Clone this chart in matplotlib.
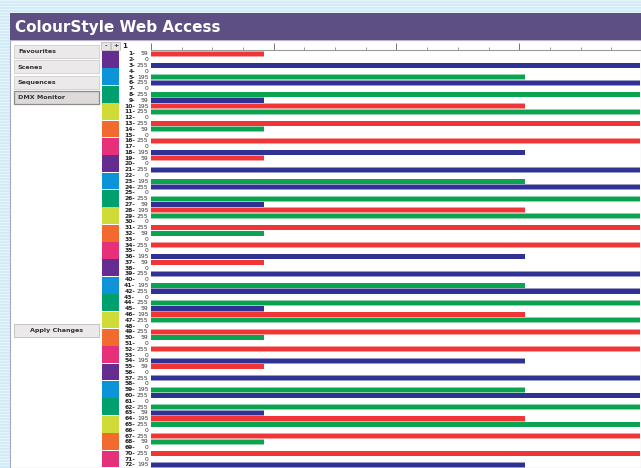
import numpy as np
import matplotlib
matplotlib.use('Agg')
import matplotlib.pyplot as plt
from matplotlib.patches import Rectangle
from matplotlib.ticker import MultipleLocator

# DMX channel values (1..72) and the colour each bar is drawn in
channels = list(range(1, 73))
values = [59, 0, 255, 0, 195, 255, 0, 255, 59, 195, 255, 0,
          255, 59, 0, 255, 0, 195, 59, 0, 255, 0, 195, 255,
          0, 255, 59, 195, 255, 0, 255, 59, 0, 255, 0, 195,
          59, 0, 255, 0, 195, 255, 0, 255, 59, 195, 255, 0,
          255, 59, 0, 255, 0, 195, 59, 0, 255, 0, 195, 255,
          0, 255, 59, 195, 255, 0, 255, 59, 0, 255, 0, 195]
bar_codes = "rrbrgbggbrgrrgrrrbrrbrgbggbrgrrgrrrb" * 2
code_colors = {'r': '#ef3535', 'g': '#0aa34f', 'b': '#2f3193'}
halo_colors = {'r': '#f7a0a0', 'g': '#8fd3ad', 'b': '#9a9bcc'}

# one swatch per fixture (3 channels each)
swatch_colors = ['#652d90', '#0d93d8', '#00a06e', '#cfdb37', '#f26a2e', '#e6317a'] * 4

nav_buttons = ['Favourites', 'Scenes', 'Sequences', 'DMX Monitor']

W, H = 641, 468
fig = plt.figure(figsize=(W / 100, H / 100), dpi=100)
fig.patch.set_facecolor('#d3ebf7')

# page / UI layer in pixel coordinates
ui = fig.add_axes([0, 0, 1, 1])
ui.set_xlim(0, W)
ui.set_ylim(H, 0)
ui.axis('off')

# striped background
for y in range(0, H, 3):
    ui.add_patch(Rectangle((0, y), W, 1.2, color='#e6f4fb', lw=0, zorder=0))

ui.add_patch(Rectangle((10, 40), W - 10, H - 40, facecolor='white',
                       edgecolor='#a9a9c4', lw=0.8, zorder=1))
ui.add_patch(Rectangle((10, 13), W - 10, 27, facecolor='#5d4f84', lw=0, zorder=2))
ui.add_patch(Rectangle((10, 40), W - 10, 1.2, facecolor='#b9b3cc', lw=0, zorder=2))
ui.text(15, 27.5, 'ColourStyle Web Access', color='white', fontsize=11,
        fontweight='bold', va='center', ha='left', zorder=3)

# navigation buttons
for i, name in enumerate(nav_buttons):
    y0 = 45 + i * 15.3
    pressed = name == 'DMX Monitor'
    ui.add_patch(Rectangle((14, y0), 85, 13,
                           facecolor='#dedada' if pressed else '#ebe9e9',
                           edgecolor='#8f8a8a' if pressed else '#cfcccc',
                           lw=0.9 if pressed else 0.6, zorder=3))
    ui.text(18, y0 + 6.8, name, fontsize=4.6, fontweight='bold',
            color='#333333', va='center', zorder=4)

ui.add_patch(Rectangle((14, 324), 85, 13, facecolor='#ebe9e9',
                       edgecolor='#bdbaba', lw=0.6, zorder=3))
ui.text(56.5, 330.8, 'Apply Changes', fontsize=4.6, fontweight='bold',
        color='#333333', va='center', ha='center', zorder=4)

# - + 1 page controls
for x0, s in [(101, '-'), (111, '+')]:
    ui.add_patch(Rectangle((x0, 42), 9, 7.5, facecolor='#e6e4e4',
                           edgecolor='#b5b2b2', lw=0.5, zorder=3))
    ui.text(x0 + 4.5, 45.8, s, fontsize=4.5, ha='center', va='center',
            fontweight='bold', color='#333333', zorder=4)
ui.text(122, 45.5, '1', fontsize=5, fontweight='bold', va='center',
        color='#222222', zorder=4)

# channel bars
y_top, y_bot = 0.31, 72.52
ax = fig.add_axes([151 / W, 0, (W - 151) / W, (H - 50) / H])
ax.set_facecolor('none')
ax.barh(channels, values, height=0.98,
        color=[halo_colors[c] for c in bar_codes], lw=0, zorder=1)
ax.barh(channels, values, height=0.76,
        color=[code_colors[c] for c in bar_codes], lw=0, zorder=2)
ax.set_xlim(0, 255.5)
ax.set_ylim(y_bot, y_top)
for side in ['left', 'right', 'bottom']:
    ax.spines[side].set_visible(False)
ax.spines['top'].set_color('#9a9a9a')
ax.spines['top'].set_linewidth(0.8)
ax.xaxis.tick_top()
ax.xaxis.set_major_locator(MultipleLocator(64))
ax.xaxis.set_minor_locator(MultipleLocator(16))
ax.tick_params(axis='x', which='major', length=5, width=0.7, color='#777777',
               labeltop=False, direction='out')
ax.tick_params(axis='x', which='minor', length=2.5, width=0.6, color='#888888',
               direction='out')
ax.set_yticks([])

for ch, v in zip(channels, values):
    ax.text(-8.3, ch, f'{ch}-', fontsize=4.3, fontweight='bold', ha='right',
            va='center', color='#222222', clip_on=False)
    ax.text(-1.4, ch, str(v), fontsize=4.3, ha='right', va='center',
            color='#333333', clip_on=False)

# fixture swatches
sw = fig.add_axes([102 / W, 0, 17 / W, (H - 50) / H])
sw.axis('off')
sw.set_xlim(0, 1)
sw.set_ylim(y_bot, y_top)
fixture_starts = [0.5 + 3 * i for i in range(len(swatch_colors))]
sw.barh(fixture_starts, [1] * len(swatch_colors), height=2.9, align='edge',
        color=swatch_colors, lw=0)

fig.savefig('out.png', dpi=100)
